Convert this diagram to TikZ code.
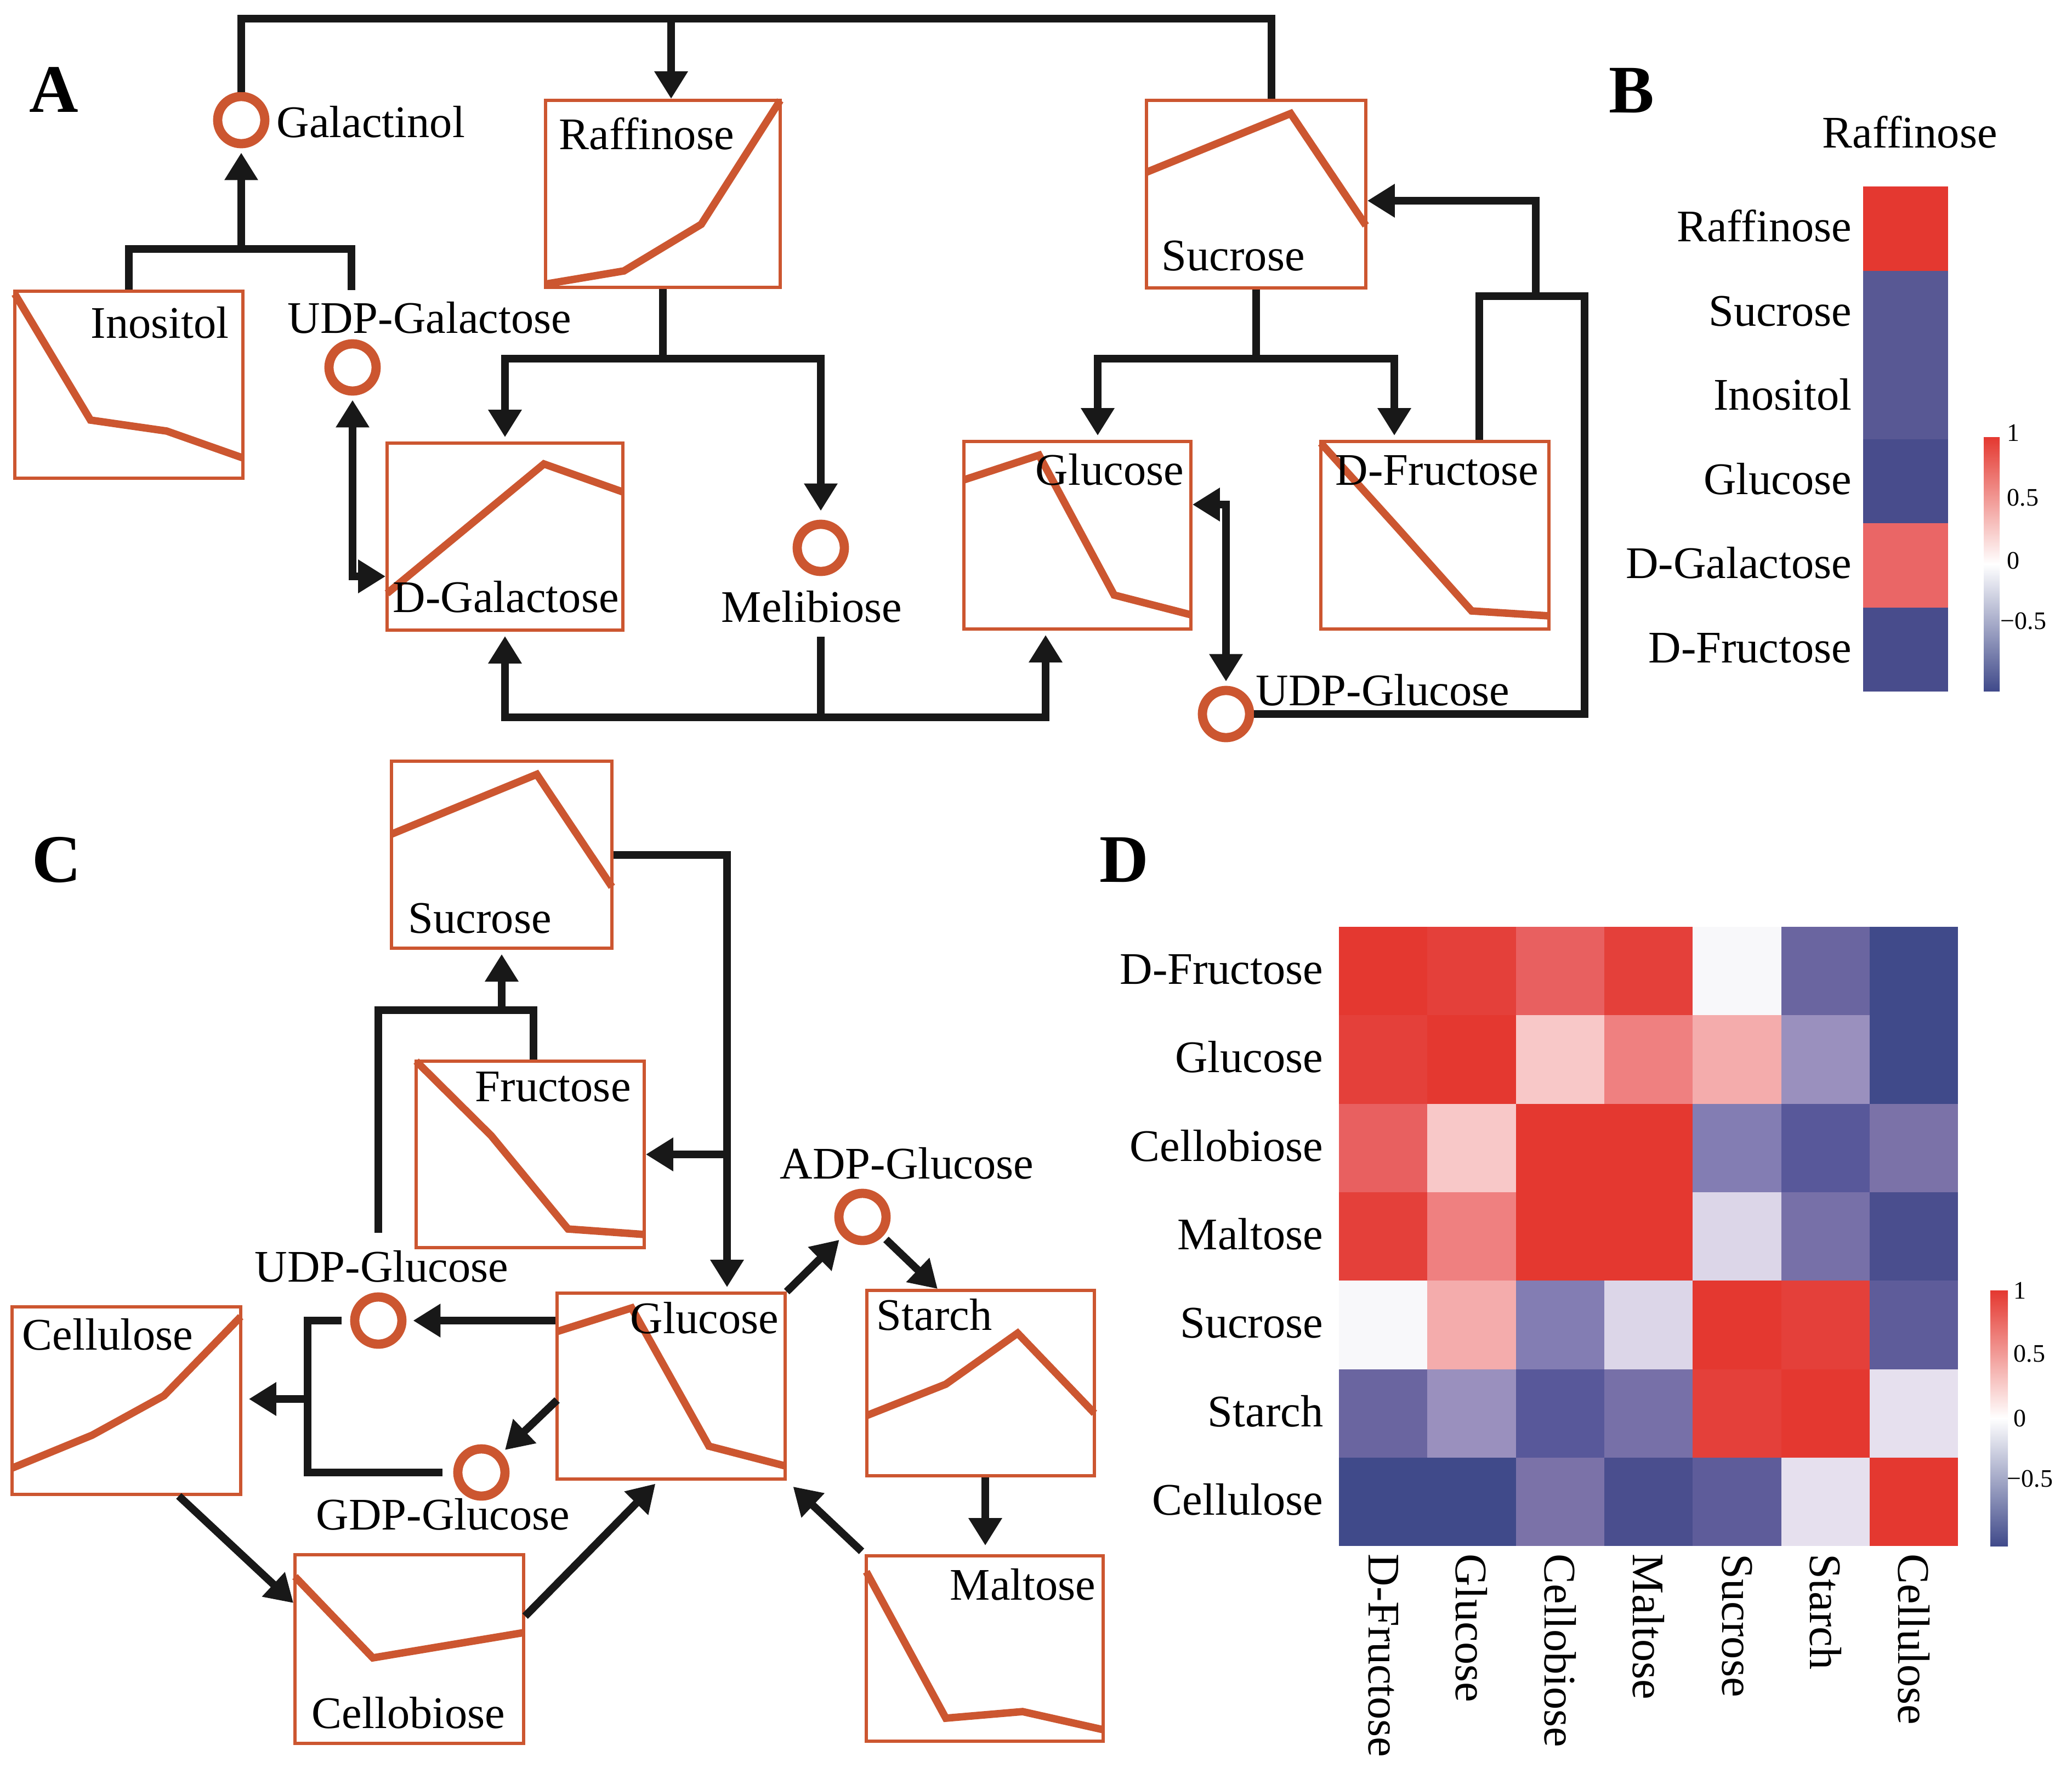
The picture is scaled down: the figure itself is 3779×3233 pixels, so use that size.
\documentclass[tikz,border=0pt]{standalone}
\usepackage{fontspec}
\setmainfont{Liberation Serif}
\usetikzlibrary{arrows.meta,calc}
\definecolor{boxc}{RGB}{204,86,48}
\definecolor{linec}{RGB}{24,24,24}
\definecolor{Ra}{RGB}{228,56,48}
\definecolor{Rb}{RGB}{228,64,58}
\definecolor{Rc}{RGB}{232,96,96}
\definecolor{Rd}{RGB}{239,128,128}
\definecolor{Re}{RGB}{244,172,172}
\definecolor{Rf}{RGB}{248,200,200}
\definecolor{Wa}{RGB}{248,248,250}
\definecolor{La}{RGB}{220,214,232}
\definecolor{Lb}{RGB}{230,224,238}
\definecolor{Ba}{RGB}{154,144,190}
\definecolor{Bb}{RGB}{131,125,179}
\definecolor{Bc}{RGB}{123,114,168}
\definecolor{Bd}{RGB}{119,112,168}
\definecolor{Be}{RGB}{106,101,160}
\definecolor{Bf}{RGB}{94,92,154}
\definecolor{Bg}{RGB}{88,88,154}
\definecolor{Bh}{RGB}{74,78,142}
\definecolor{Bi}{RGB}{64,74,138}
\definecolor{Bs}{RGB}{88,88,148}
\definecolor{Bt}{RGB}{72,76,140}
\definecolor{Rg}{RGB}{234,102,102}
\begin{document}
\begin{tikzpicture}[x=0.25pt,y=-0.25pt,
  >={Triangle[length=12.5pt,width=14.5pt]},
  lbl/.style={font=\fontsize{20.6pt}{24pt}\selectfont, inner sep=0pt, anchor=base west},
  rowlab/.style={font=\fontsize{20.6pt}{24pt}\selectfont, inner sep=0pt, anchor=base east},
  collab/.style={font=\fontsize{20.6pt}{24pt}\selectfont, inner sep=0pt, anchor=west, rotate=-90},
  plotbox/.style={draw=boxc, line width=1.4pt, inner sep=0pt, rectangle},
  trend/.style={draw=boxc, line width=3.4pt},
  metab/.style={circle, draw=boxc, line width=4.2pt, minimum size=21.5pt, inner sep=0pt},
  conn/.style={draw=linec, line width=3.5pt},
  arr/.style={conn, ->},
  darr/.style={conn, <->},
  panel/.style={font=\fontsize{31pt}{36pt}\selectfont\bfseries, inner sep=0pt, anchor=base west},
  tick/.style={font=\fontsize{11.5pt}{13pt}\selectfont, inner sep=0pt, anchor=west},
]
\fill[white] (0,0) rectangle (3779,3233);
\useasboundingbox (0,0) rectangle (3779,3233);

% ================= Panel A =================
\node[panel] (pA) at (53,204) {A};
\node[plotbox, minimum width=104pt, minimum height=85.25pt] (ino) at (235,701.5) {};
\node[plotbox, minimum width=107pt, minimum height=85.25pt] (raf) at (1209,353.5) {};
\node[plotbox, minimum width=107.5pt, minimum height=85.25pt] (dgal) at (921,978.5) {};
\node[plotbox, minimum width=100pt, minimum height=85.5pt] (sucA) at (2291,354) {};
\node[plotbox, minimum width=103.5pt, minimum height=85.5pt] (glcA) at (1965,976) {};
\node[plotbox, minimum width=104pt, minimum height=85.5pt] (dfr) at (2617,976) {};
\draw[trend] (27,536) -- (165,766) -- (304,786) -- (443,835);
\draw[trend] (995,518) -- (1138,494) -- (1279,409) -- (1423,183);
\draw[trend] (706,1082) -- (992,846) -- (1136,897);
\draw[trend] (2091,314) -- (2354,207) -- (2491,411);
\draw[trend] (1758,875) -- (1895,830) -- (2032,1085) -- (2172,1121);
\draw[trend] (2409,808) -- (2550,964) -- (2684,1114) -- (2825,1123);
\node[metab] (gal) at (440,219) {};
\node[metab] (ugal) at (643,670) {};
\node[metab] (mel) at (1497,999) {};
\node[metab] (uglc) at (2236,1302) {};
\node[lbl] (galL) at (504,250) {Galactinol};
\node[lbl] (inoL) at (165,616) {Inositol};
\node[lbl] (ugalL) at (524,607) {UDP-Galactose};
\node[lbl] (dgalL) at (716,1116) {D-Galactose};
\node[lbl] (rafL) at (1019,272) {Raffinose};
\node[lbl] (melL) at (1315,1134) {Melibiose};
\node[lbl] (glcAL) at (1888,884) {Glucose};
\node[lbl] (sucAL) at (2118,493) {Sucrose};
\node[lbl] (dfrL) at (2435,884) {D-Fructose};
\node[lbl] (uglcL) at (2290,1286) {UDP-Glucose};
\coordinate (tL) at (440,34);
\coordinate (tR) at (2319,34);
\coordinate (tM) at (1224,34);
\draw[conn] (gal.north) -- (tL) -- (tR) -- (tR |- sucA.north);
\draw[arr] (tM) -- (tM |- raf.north);
\coordinate (gbar) at (440,454);
\coordinate (ugT) at (641,529);
\draw[conn] (ino.north) |- (ugT |- gbar) -- (ugT);
\draw[arr, shorten >=2pt] (gbar) -- (gal.south);
\coordinate (ugC) at (643,1051);
\draw[darr, shorten <=2pt] (ugal.south) -- (ugC) -- (ugC -| dgal.west);
\coordinate (rJ) at (1209,654);
\draw[conn] (raf.south) -- (rJ);
\draw[arr, shorten >=2pt] (rJ) -| (dgal.north);
\draw[arr, shorten >=4pt] (rJ) -| (mel.north);
\coordinate (mT) at (1497,1161);
\coordinate (mJ) at (1497,1308);
\coordinate (gB) at (1907,1308);
\draw[conn] (mT) -- (mJ);
\draw[arr, shorten >=2pt] (mJ) -| (dgal.south);
\draw[arr, shorten >=2pt] (mJ) -- (gB) -- (gB |- glcA.south);
\coordinate (sJ) at (2291,654);
\coordinate (sjL) at (2002,654);
\coordinate (sjR) at (2543,654);
\draw[conn] (sucA.south) -- (sJ);
\draw[arr, shorten >=2pt] (sJ) -- (sjL) -- (sjL |- glcA.north);
\draw[arr, shorten >=2pt] (sJ) -- (sjR) -- (sjR |- dfr.north);
\coordinate (fB) at (2698,540);
\coordinate (fR) at (2890,540);
\coordinate (fM) at (2801,540);
\coordinate (fS) at (2801,366);
\draw[conn] (fB |- dfr.north) -- (fB) -- (fR) |- (uglc.east);
\draw[arr] (fM) -- (fS) -- (fS -| sucA.east);
\coordinate (gR) at (2236,920);
\draw[darr, shorten >=2pt] (gR -| glcA.east) -- (gR) -- (uglc.north);

% ================= Panel B =================
\node[panel] (pB) at (2934,205) {B};
\node[lbl] (bT) at (3323,269) {Raffinose};
\foreach \c/\t [count=\i from 0] in {Ra/Raffinose, Bs/Sucrose, Bs/Inositol, Bt/Glucose, Rg/D-Galactose, Bt/D-Fructose}{
  \fill[\c] (3398,{340+\i*153.5}) rectangle (3553,{340+(\i+1)*153.5});
  \node[rowlab] (br\i) at (3378,{340+\i*153.5+76.75+24}) {\t};
}
\shade[top color=Ra, bottom color=Bi, middle color=white] (3618,797) rectangle (3647,1260);
\node[tick] (bt1) at (3660,789) {1};
\node[tick] (bt2) at (3660,908) {0.5};
\node[tick] (bt3) at (3660,1022) {0};
\node[tick] (bt4) at (3648,1133) {−0.5};

% ================= Panel C =================
\node[panel] (pC) at (58,1608) {C};
\node[plotbox, minimum width=100.5pt, minimum height=85.25pt] (sucC) at (915,1558.5) {};
\node[plotbox, minimum width=104pt, minimum height=85pt] (fru) at (967,2105) {};
\node[plotbox, minimum width=104pt, minimum height=84.75pt] (glcC) at (1224,2527.5) {};
\node[plotbox, minimum width=104.25pt, minimum height=85.5pt] (cell) at (230.5,2554) {};
\node[plotbox, minimum width=104.25pt, minimum height=86pt] (cb) at (746.5,3007) {};
\node[plotbox, minimum width=103.75pt, minimum height=84.5pt] (starch) at (1788.5,2522) {};
\node[plotbox, minimum width=108pt, minimum height=84.5pt] (malt) at (1796,3006) {};
\draw[trend] (714,1521) -- (979,1412) -- (1116,1617);
\draw[trend] (759,1935) -- (896,2071) -- (1036,2241) -- (1175,2251);
\draw[trend] (1016,2428) -- (1152,2385) -- (1293,2637) -- (1432,2673);
\draw[trend] (22,2677) -- (168,2617) -- (299,2545) -- (439,2401);
\draw[trend] (538,2875) -- (680,3023) -- (955,2977);
\draw[trend] (1581,2581) -- (1725,2524) -- (1856,2431) -- (1996,2577);
\draw[trend] (1580,2866) -- (1725,3133) -- (1865,3121) -- (2012,3154);
\node[metab] (udpc) at (690,2408) {};
\node[metab] (gdpc) at (878,2685) {};
\node[metab] (adp) at (1573,2219) {};
\node[lbl] (sucCL) at (744,1701) {Sucrose};
\node[lbl] (fruL) at (866,2008) {Fructose};
\node[lbl] (udpcL) at (464,2337) {UDP-Glucose};
\node[lbl] (glcCL) at (1149,2431) {Glucose};
\node[lbl] (gdpcL) at (576,2789) {GDP-Glucose};
\node[lbl] (cellL) at (40,2461) {Cellulose};
\node[lbl] (cbL) at (568,3151) {Cellobiose};
\node[lbl] (adpL) at (1422,2149) {ADP-Glucose};
\node[lbl] (starchL) at (1598,2425) {Starch};
\node[lbl] (maltL) at (1732,2917) {Maltose};
\coordinate (scR) at (1326,1558.5);
\draw[arr, shorten >=2pt] (sucC.east) -- (scR) -- (scR |- glcC.north);
\coordinate (scF) at (1326,2105);
\draw[arr] (scF) -- (scF -| fru.east);
\coordinate (fT) at (973,1842);
\coordinate (fL) at (690,1842);
\coordinate (fLb) at (690,2248);
\coordinate (fJ) at (915,1842);
\draw[conn] (fT |- fru.north) -- (fT) -- (fL) -- (fLb);
\draw[arr, shorten >=2pt] (fJ) -- (sucC.south);
\draw[arr, shorten >=3pt] (glcC.west |- udpc) -- (udpc.east);
\coordinate (gG) at (1016,2553);
\draw[arr, shorten >=2pt] (gG) -- (gdpc);
\coordinate (brk) at (561,2551);
\draw[conn, shorten <=4pt, shorten >=5pt] (udpc.west) -| (brk) |- (gdpc.west);
\draw[arr, shorten >=3pt] (brk) -- (brk -| cell.east);
\coordinate (cS) at (326,2727);
\coordinate (cbW) at (538,2923);
\draw[arr] (cS |- cell.south) -- (cbW -| cb.west);
\coordinate (cbE) at (955,2947);
\coordinate (gS) at (1201,2697);
\draw[arr, shorten >=2pt] (cbE -| cb.east) -- (gS |- glcC.south);
\draw[arr, shorten >=2pt] (glcC.north east) -- (adp);
\coordinate (stN) at (1710,2353);
\draw[arr, shorten <=2pt] (adp) -- (stN |- starch.north);
\coordinate (smx) at (1797,2700);
\draw[arr, shorten >=4pt] (smx |- starch.south) -- (smx |- malt.north);
\draw[arr, shorten <=2pt, shorten >=4pt] (malt.north west) -- (glcC.south east);

% ================= Panel D =================
\node[panel] (pD) at (2005,1608) {D};
\foreach \row [count=\i from 0] in {{Ra,Rb,Rc,Rb,Wa,Be,Bi},{Rb,Ra,Rf,Rd,Re,Ba,Bi},{Rc,Rf,Ra,Ra,Bb,Bg,Bc},{Rb,Rd,Ra,Ra,La,Bd,Bh},{Wa,Re,Bb,La,Ra,Rb,Bf},{Be,Ba,Bg,Bd,Rb,Ra,Lb},{Bi,Bi,Bc,Bh,Bf,Lb,Ra}}{
  \foreach \c [count=\j from 0] in \row {
    \fill[\c] ({2442+\j*161.3},{1690+\i*161.3}) rectangle ({2442+(\j+1)*161.3},{1690+(\i+1)*161.3});
  }
}
\foreach \t [count=\i from 0] in {D-Fructose,Glucose,Cellobiose,Maltose,Sucrose,Starch,Cellulose}{
  \node[rowlab] (dr\i) at (2414,{1690+\i*161.3+80.65+24}) {\t};
  \node[collab] (dc\i) at ({2442+\i*161.3+80.65},2833) {\t};
}
\shade[top color=Ra, bottom color=Bi, middle color=white] (3630,2353) rectangle (3662,2819);
\node[tick] (dt1) at (3672,2353) {1};
\node[tick] (dt2) at (3672,2468) {0.5};
\node[tick] (dt3) at (3672,2586) {0};
\node[tick] (dt4) at (3660,2696) {−0.5};
\end{tikzpicture}
\end{document}
